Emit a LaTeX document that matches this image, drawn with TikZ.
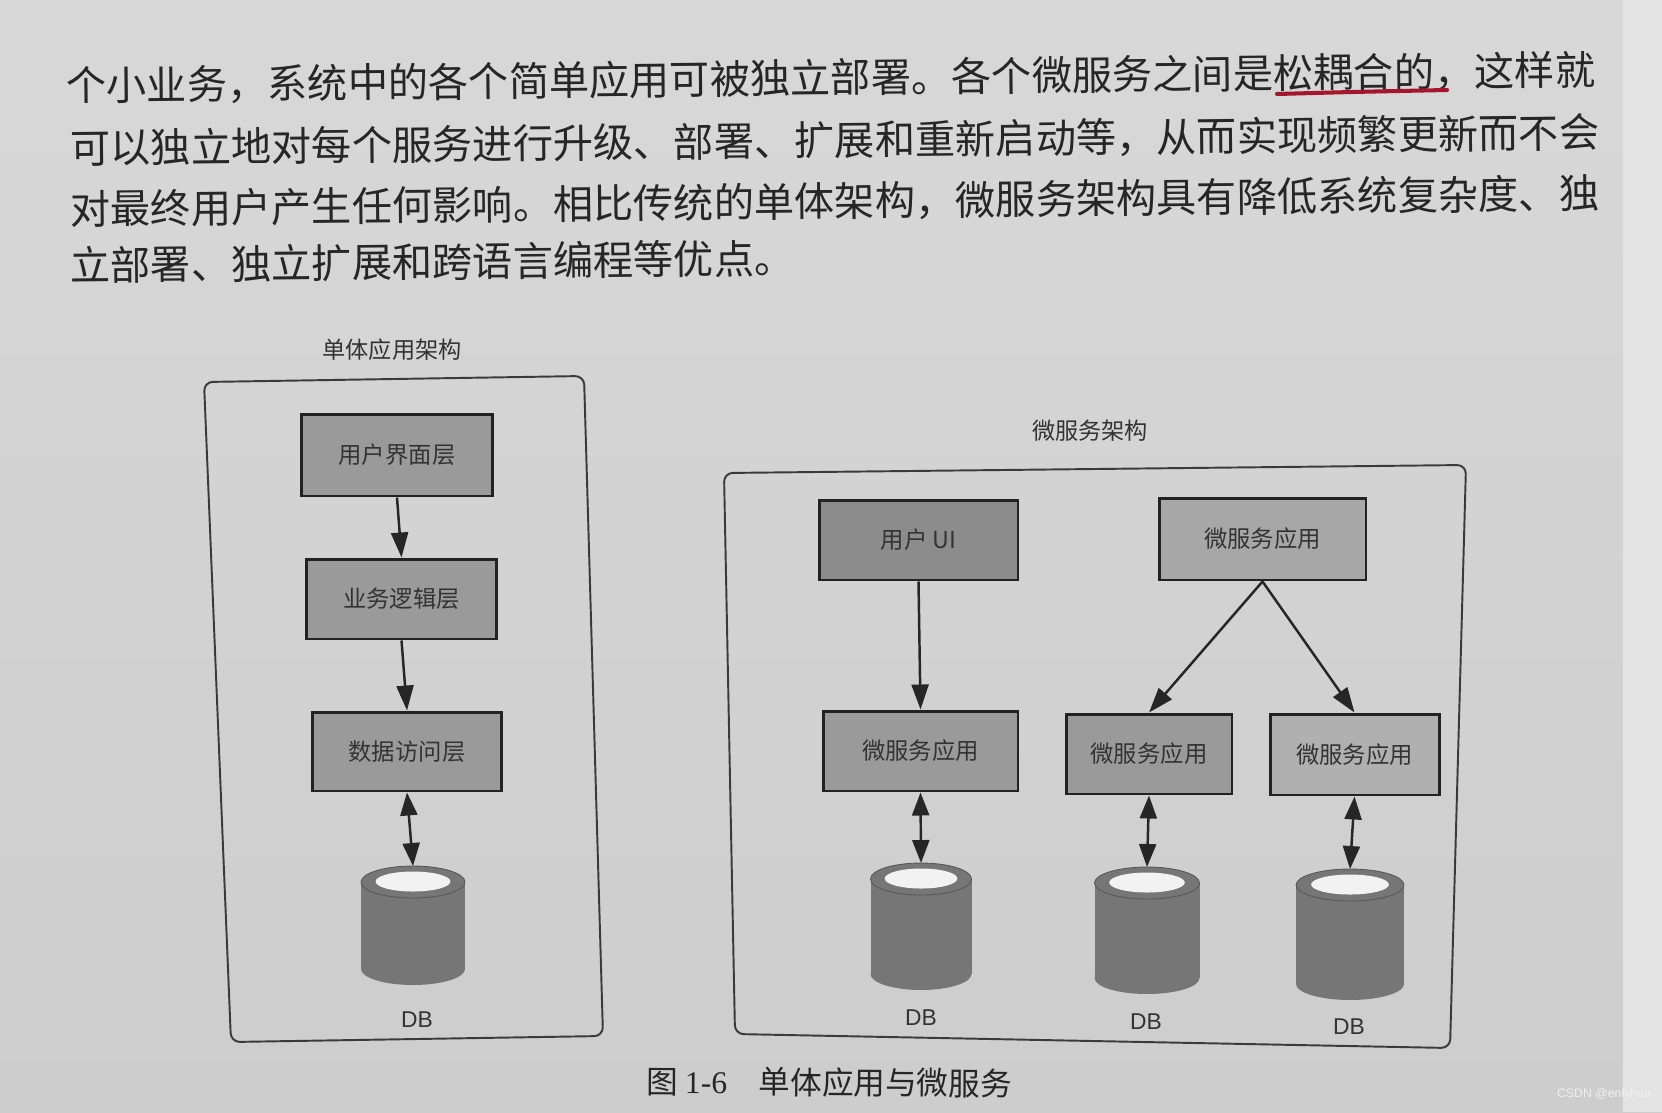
\documentclass[tikz,border=0pt]{standalone}
\usepackage{fontspec}
\setmainfont{Noto Sans CJK SC}
\newfontfamily\latinsans{Liberation Sans}
\newfontfamily\latinserif{Liberation Serif}
\usetikzlibrary{arrows.meta,calc}
\definecolor{pagetop}{HTML}{D8D8D8}
\definecolor{pagebot}{HTML}{CDCDCD}
\definecolor{pagestrip}{HTML}{E3E3E3}
\definecolor{ink}{HTML}{262626}
\definecolor{boxline}{HTML}{222222}
\definecolor{boxA}{HTML}{9A9A9A}
\definecolor{boxB}{HTML}{A7A7A7}
\definecolor{boxC}{HTML}{B0B0B0}
\definecolor{boxUI}{HTML}{8C8C8C}
\definecolor{boxtext}{HTML}{333333}
\definecolor{cylgray}{HTML}{767676}
\definecolor{cyltop}{HTML}{F2F2F2}
\definecolor{framecol}{HTML}{3A3A3A}
\definecolor{redpen}{HTML}{A3162C}
\definecolor{wmark}{HTML}{F0F0F0}
\newcommand\dbdraw[2]{%
  \fill[cylgray] ($(#1.north west)+(0,-0.32cm)$) rectangle ($(#1.south east)+(0,0.32cm)$);
  \fill[cylgray] ($(#1.south)+(0,0.32cm)$) ellipse [x radius=#2cm, y radius=0.32cm];
  \fill[cylgray] ($(#1.north)+(0,-0.32cm)$) ellipse [x radius=#2cm, y radius=0.32cm];
  \draw[cylgray!75!black, line width=0.5pt] ($(#1.north)+(0,-0.32cm)$) ellipse [x radius=#2cm, y radius=0.32cm];
  \fill[cyltop] ($(#1.north)+(0,-0.31cm)$) ellipse [x radius=0.72*#2cm, y radius=0.2cm];
}
\begin{document}
\begin{tikzpicture}[x=0.02cm,y=-0.02cm,
  bodyline/.style={anchor=west, inner sep=0pt, rotate=0.6, font=\fontsize{22.9}{24}\selectfont, text=ink},
  layer/.style={draw=boxline, line width=1.7pt, fill=#1, inner sep=0pt,
    font=\fontsize{13.3}{14}\selectfont, text=boxtext},
  dbnode/.style={rectangle, draw=none, inner sep=0pt, outer sep=0pt},
  dblabel/.style={inner sep=0pt, font=\latinsans\fontsize{13}{14}\selectfont, text=boxtext},
  title/.style={inner sep=0pt, font=\fontsize{13.2}{14}\selectfont, text=boxtext},
  arr/.style={draw=ink, line width=1.4pt, -{Triangle[length=0.5cm,width=0.34cm]}},
  darr/.style={draw=ink, line width=1.4pt, {Triangle[length=0.46cm,width=0.34cm]}-{Triangle[length=0.46cm,width=0.34cm]}},
  frame/.style={draw=framecol, line width=1.1pt, rounded corners=5pt}
]
\useasboundingbox (0,0) rectangle (1662,1112);
\shade[top color=pagetop, bottom color=pagebot] (0,0) rectangle (1662,1112);
\fill[pagestrip] (1623,0) rectangle (1662,1112);

% paragraph
\node[bodyline] (l1) at (66,86) {个小业务，系统中的各个简单应用可被独立部署。各个微服务之间是松耦合的，这样就};
\node[bodyline] (l2) at (70,148.5) {可以独立地对每个服务进行升级、部署、扩展和重新启动等，从而实现频繁更新而不会};
\node[bodyline] (l3) at (70,209.5) {对最终用户产生任何影响。相比传统的单体架构，微服务架构具有降低系统复杂度、独};
\node[bodyline] (l4) at (70,265.5) {立部署、独立扩展和跨语言编程等优点。};
\draw[redpen, line width=2.3pt, line cap=round] (1277,94) .. controls (1350,92) .. (1447,90);

% monolithic
\node[title] (t1) at (392,350) {单体应用架构};
\draw[frame] (204,382) -- (584,376) -- (603,1036) -- (231,1042) -- cycle;
\node[layer=boxA, minimum width=3.84cm, minimum height=1.64cm] (ui1) at (397,455) {用户界面层};
\node[layer=boxA, minimum width=3.82cm, minimum height=1.60cm] (bl1) at (401.5,599) {业务逻辑层};
\node[layer=boxA, minimum width=3.80cm, minimum height=1.58cm] (da1) at (407,751.5) {数据访问层};
\node[dbnode, minimum width=2.08cm, minimum height=2.38cm] (db1) at (413,925.5) {};
\node[dblabel] (dbl1) at (417,1020) {DB};

% microservices
\node[title] (t2) at (1090,431) {微服务架构};
\draw[frame] (724,473) -- (1466,465) -- (1450,1048) -- (735,1034) -- cycle;
\node[layer=boxUI, minimum width=3.98cm, minimum height=1.60cm] (ui2) at (918.5,540) {用户 UI};
\node[layer=boxA, minimum width=3.90cm, minimum height=1.60cm] (ms1) at (920.5,751) {微服务应用};
\node[layer=boxB, minimum width=4.14cm, minimum height=1.64cm] (ms0) at (1262.5,539) {微服务应用};
\node[layer=boxA, minimum width=3.32cm, minimum height=1.60cm] (ms2) at (1149,754) {微服务应用};
\node[layer=boxC, minimum width=3.38cm, minimum height=1.62cm] (ms3) at (1354.5,754.5) {微服务应用};
\node[dbnode, minimum width=2.02cm, minimum height=2.54cm] (dbA) at (921,926.5) {};
\node[dbnode, minimum width=2.10cm, minimum height=2.54cm] (dbB) at (1147,930.5) {};
\node[dbnode, minimum width=2.16cm, minimum height=2.62cm] (dbC) at (1350,934.5) {};
\node[dblabel] (dblA) at (921,1018) {DB};
\node[dblabel] (dblB) at (1146,1022) {DB};
\node[dblabel] (dblC) at (1349,1027) {DB};

\dbdraw{db1}{1.04}
\dbdraw{dbA}{1.01}
\dbdraw{dbB}{1.05}
\dbdraw{dbC}{1.08}

% connectors
\draw[arr] (ui1.south) -- (bl1.north);
\draw[arr] (bl1.south) -- (da1.north);
\draw[darr] (da1.south) -- (db1.north);
\draw[arr] (ui2.south) -- (ms1.north);
\draw[darr] (ms1.south) -- (dbA.north);
\draw[arr] (ms0.south) -- (ms2.north);
\draw[arr] (ms0.south) -- (ms3.north);
\draw[darr] (ms2.south) -- (dbB.north);
\draw[darr] (ms3.south) -- (dbC.north);

% caption and watermark
\node[inner sep=0pt, anchor=west, font=\fontsize{18}{20}\selectfont, text=ink, rotate=-0.4] (cap) at (646,1081)
  {图 {\latinserif 1-6}\hspace{1em}单体应用与微服务};
\node[inner sep=0pt, font=\latinsans\fontsize{7}{8}\selectfont, text=wmark] (wm) at (1604,1094) {CSDN @enlyhua};
\end{tikzpicture}
\end{document}
